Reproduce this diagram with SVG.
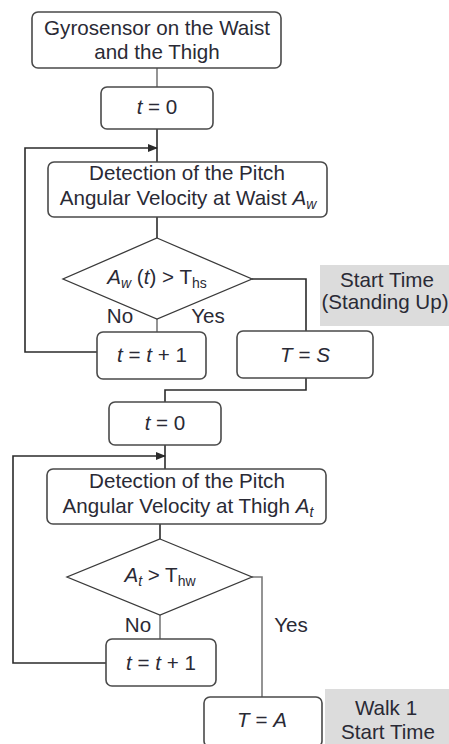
<svg xmlns="http://www.w3.org/2000/svg" width="449" height="744" viewBox="0 0 449 744">
<defs>
<marker id="arr" markerWidth="10" markerHeight="8" refX="9" refY="4" orient="auto" markerUnits="userSpaceOnUse">
<path d="M0,0 L10,4 L0,8 Z" fill="#2b2b2b"/>
</marker>
<style>
.box{fill:#fff;stroke:#4a4a4a;stroke-width:1.6}
.dia{fill:#fff;stroke:#3a3a3a;stroke-width:1.3}
.note{fill:#dcdcdc;stroke:none}
.ln{fill:none;stroke:#2b2b2b;stroke-width:1.6}
.lg{fill:none;stroke:#7a7a7a;stroke-width:1.6}
text{font-family:"Liberation Sans",Arial,sans-serif;font-size:20.6px;fill:#2a2a35;text-anchor:middle}
.i{font-style:italic}
.sub{font-size:14px}
</style>
</defs>
<rect width="449" height="744" fill="#fff"/>
<g id="connectors">
<line class="lg" x1="157" y1="68" x2="157" y2="87"/>
<line class="ln" x1="157" y1="129" x2="157" y2="162"/>
<polyline class="ln" points="97,352 25,352 25,148 157,148" marker-end="url(#arr)"/>
<line class="ln" x1="157" y1="217" x2="157" y2="238"/>
<line class="lg" x1="157" y1="319" x2="157" y2="332"/>
<polyline class="ln" points="252,279 306,279 306,331"/>
<polyline class="ln" points="306,378 306,390 165,390 165,402"/>
<line class="ln" x1="165" y1="445" x2="165" y2="469"/>
<polyline class="ln" points="106,663 13,663 13,456 165,456" marker-end="url(#arr)"/>
<line class="ln" x1="160" y1="524" x2="160" y2="539"/>
<line class="lg" x1="160" y1="615" x2="160" y2="639"/>
<polyline class="lg" points="252,577 262,577 262,697"/>
</g>
<g id="n1">
<rect class="box" x="32" y="12" width="249" height="56" rx="6"/>
<text x="157" y="35">Gyrosensor on the Waist</text>
<text x="157" y="59">and the Thigh</text>
</g>
<g id="n2">
<rect class="box" x="101" y="87" width="112" height="42" rx="6"/>
<text x="157" y="114"><tspan class="i">t</tspan> = 0</text>
</g>
<g id="n3">
<rect class="box" x="48" y="162" width="279" height="55" rx="6"/>
<text x="187" y="180">Detection of the Pitch</text>
<text x="188" y="205">Angular Velocity at Waist <tspan class="i">A</tspan><tspan class="i sub" dy="4">w</tspan></text>
</g>
<g id="d1">
<polygon class="dia" points="157,238 252,279 157,319 63,279"/>
<text x="157" y="284"><tspan class="i">A</tspan><tspan class="i sub" dy="4">w</tspan><tspan dy="-4"> (</tspan><tspan class="i">t</tspan>) &gt; T<tspan class="sub" dy="4">hs</tspan></text>
<text x="120" y="323">No</text>
<text x="208" y="323">Yes</text>
</g>
<g id="note1">
<rect class="note" x="320" y="265" width="129" height="61"/>
<text x="387" y="287">Start Time</text>
<text x="385" y="309">(Standing Up)</text>
</g>
<g id="n4">
<rect class="box" x="97" y="332" width="109" height="47" rx="6"/>
<text x="152" y="362"><tspan class="i">t</tspan> = <tspan class="i">t</tspan> + 1</text>
</g>
<g id="n5">
<rect class="box" x="237" y="331" width="136" height="47" rx="6"/>
<text x="305" y="362"><tspan class="i">T</tspan> = <tspan class="i">S</tspan></text>
</g>
<g id="n6">
<rect class="box" x="109" y="402" width="112" height="43" rx="6"/>
<text x="165" y="430"><tspan class="i">t</tspan> = 0</text>
</g>
<g id="n7">
<rect class="box" x="47" y="469" width="279" height="55" rx="6"/>
<text x="187" y="488">Detection of  the Pitch</text>
<text x="188" y="513">Angular Velocity at Thigh <tspan class="i">A</tspan><tspan class="i sub" dy="4">t</tspan></text>
</g>
<g id="d2">
<polygon class="dia" points="160,539 252,577 160,615 67,577"/>
<text x="160" y="582"><tspan class="i">A</tspan><tspan class="i sub" dy="4">t</tspan><tspan dy="-4"> &gt; T</tspan><tspan class="sub" dy="4">hw</tspan></text>
<text x="138" y="632">No</text>
<text x="291" y="632">Yes</text>
</g>
<g id="n8">
<rect class="box" x="106" y="639" width="110" height="47" rx="6"/>
<text x="161" y="670"><tspan class="i">t</tspan> = <tspan class="i">t</tspan> + 1</text>
</g>
<g id="n9">
<rect class="box" x="204" y="697" width="118" height="50" rx="6"/>
<text x="262" y="727"><tspan class="i">T</tspan> = <tspan class="i">A</tspan></text>
</g>
<g id="note2">
<rect class="note" x="325" y="689" width="124" height="55"/>
<text x="386" y="715">Walk 1</text>
<text x="388" y="739">Start Time</text>
</g>
</svg>
